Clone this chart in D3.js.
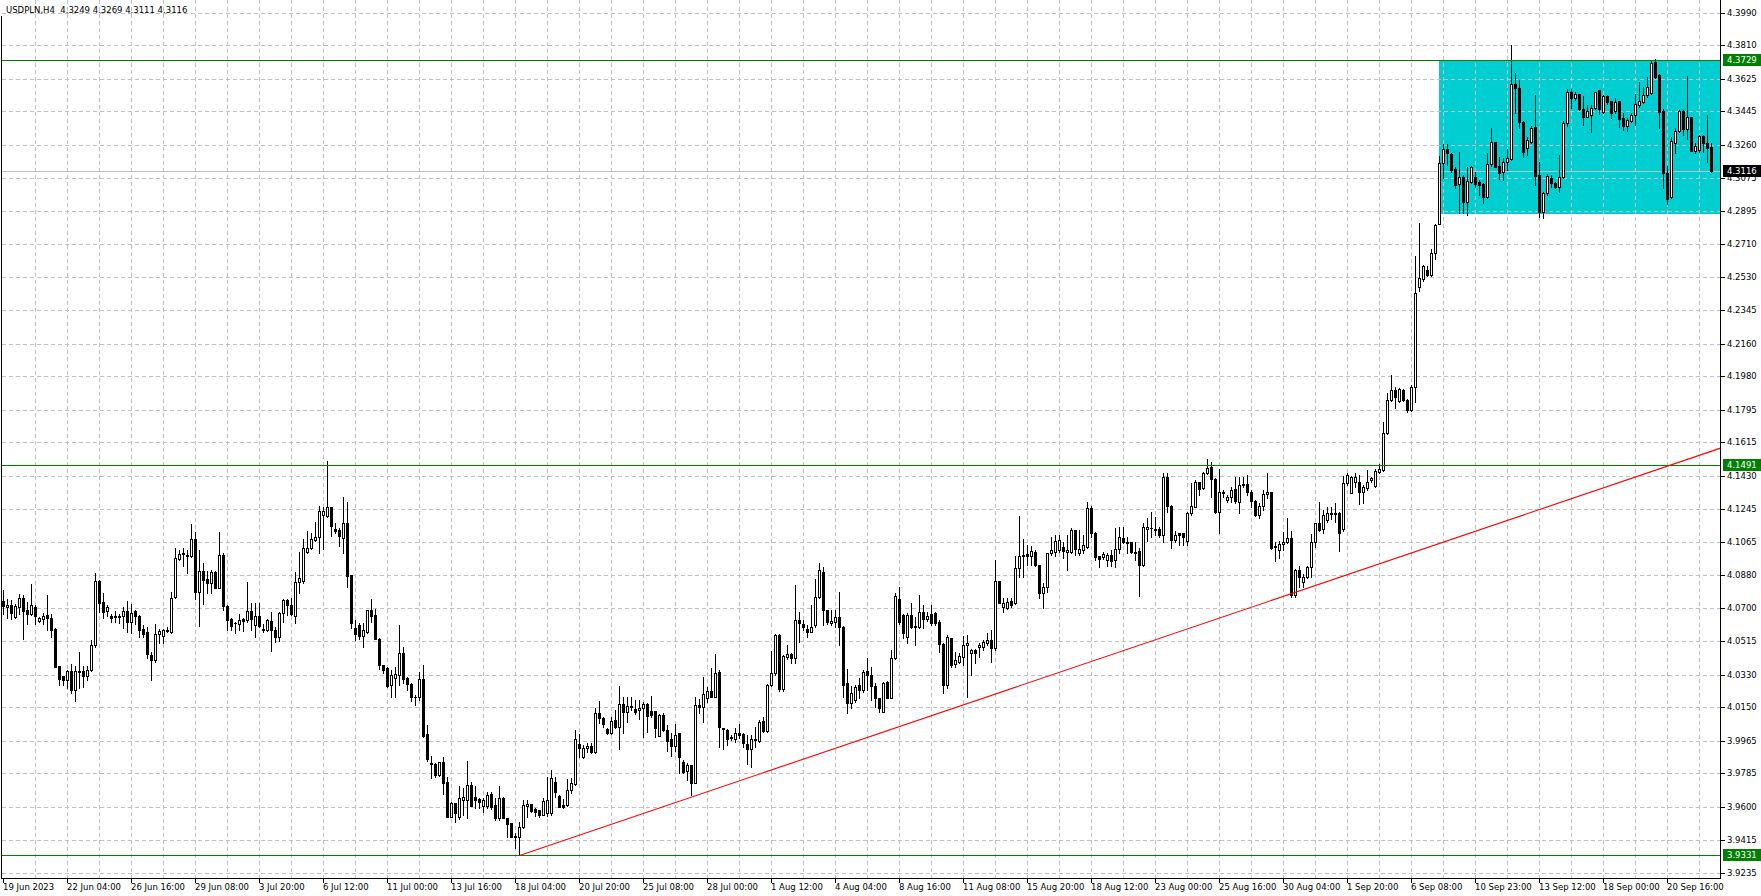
<!DOCTYPE html>
<html><head><meta charset="utf-8">
<script src="https://cdn.jsdelivr.net/npm/d3@7"></script>
<style>html,body{margin:0;padding:0;background:#fff;overflow:hidden}</style>
</head><body><svg id="c" width="1761" height="896"></svg>
<script>
const symbolTitle = "USDPLN,H4  4.3249 4.3269 4.3111 4.3116";
// H4 bars: [open, high, low, close]
const bars = [
[4.0737,4.0799,4.0668,4.0709],[4.0702,4.0746,4.0646,4.0713],[4.0713,4.0743,4.0640,4.0674],[4.0651,4.0720,4.0646,4.0709],
[4.0705,4.0774,4.0668,4.0752],[4.0752,4.0770,4.0526,4.0683],[4.0687,4.0733,4.0612,4.0668],[4.0664,4.0832,4.0659,4.0713],
[4.0707,4.0715,4.0608,4.0657],[4.0629,4.0649,4.0621,4.0642],[4.0638,4.0672,4.0608,4.0657],[4.0662,4.0770,4.0575,4.0644],
[4.0646,4.0668,4.0541,4.0580],[4.0584,4.0590,4.0370,4.0375],[4.0379,4.0379,4.0273,4.0305],[4.0321,4.0323,4.0273,4.0303],
[4.0303,4.0355,4.0258,4.0351],[4.0351,4.0392,4.0230,4.0247],[4.0247,4.0379,4.0187,4.0351],[4.0351,4.0457,4.0258,4.0353],
[4.0351,4.0379,4.0264,4.0323],[4.0323,4.0379,4.0299,4.0355],[4.0355,4.0524,4.0351,4.0495],[4.0495,4.0892,4.0485,4.0849],
[4.0849,4.0854,4.0677,4.0728],[4.0731,4.0784,4.0646,4.0677],[4.0683,4.0715,4.0653,4.0702],[4.0653,4.0668,4.0621,4.0646],
[4.0653,4.0681,4.0620,4.0651],[4.0655,4.0668,4.0618,4.0657],[4.0655,4.0702,4.0588,4.0681],[4.0681,4.0739,4.0565,4.0621],
[4.0621,4.0720,4.0560,4.0674],[4.0681,4.0690,4.0612,4.0655],[4.0653,4.0659,4.0537,4.0579],[4.0582,4.0607,4.0537,4.0556],
[4.0565,4.0593,4.0422,4.0444],[4.0440,4.0454,4.0303,4.0411],[4.0414,4.0612,4.0403,4.0556],[4.0556,4.0584,4.0504,4.0571],
[4.0545,4.0584,4.0504,4.0579],[4.0577,4.0593,4.0565,4.0579],[4.0564,4.0787,4.0560,4.0757],[4.0761,4.1032,4.0752,4.0976],
[4.0972,4.1022,4.0966,4.0998],[4.1004,4.1032,4.0929,4.0996],[4.0990,4.1022,4.0892,4.0992],[4.0985,4.1161,4.0983,4.1082],
[4.1078,4.1120,4.0748,4.0789],[4.0785,4.1017,4.0597,4.0901],[4.0901,4.0948,4.0720,4.0854],[4.0858,4.0901,4.0784,4.0836],
[4.0836,4.0910,4.0784,4.0897],[4.0897,4.0901,4.0808,4.0812],[4.0812,4.1119,4.0808,4.0994],[4.0994,4.1004,4.0687,4.0711],
[4.0711,4.0715,4.0575,4.0634],[4.0640,4.0646,4.0575,4.0599],[4.0618,4.0621,4.0560,4.0614],[4.0612,4.0664,4.0579,4.0631],
[4.0638,4.0646,4.0571,4.0627],[4.0631,4.0841,4.0621,4.0681],[4.0681,4.0724,4.0575,4.0636],[4.0603,4.0728,4.0537,4.0657],
[4.0657,4.0724,4.0593,4.0599],[4.0580,4.0612,4.0565,4.0582],[4.0579,4.0640,4.0571,4.0631],[4.0625,4.0677,4.0459,4.0579],
[4.0580,4.0593,4.0511,4.0537],[4.0537,4.0677,4.0515,4.0674],[4.0672,4.0746,4.0621,4.0743],[4.0743,4.0746,4.0659,4.0715],
[4.0715,4.0752,4.0659,4.0664],[4.0655,4.0900,4.0616,4.0841],[4.0842,4.1007,4.0784,4.0863],[4.0851,4.1079,4.0836,4.1029],
[4.1006,4.1127,4.1002,4.1029],[4.1029,4.1116,4.1024,4.1079],[4.1075,4.1177,4.1072,4.1090],[4.1090,4.1263,4.1005,4.1236],
[4.1214,4.1260,4.1024,4.1236],[4.1210,4.1512,4.1204,4.1256],[4.1256,4.1260,4.1099,4.1155],[4.1136,4.1167,4.1112,4.1127],
[4.1131,4.1140,4.1042,4.1099],[4.1088,4.1311,4.1005,4.1168],[4.1168,4.1287,4.0814,4.0876],[4.0882,4.0882,4.0587,4.0615],
[4.0587,4.0633,4.0523,4.0556],[4.0605,4.0615,4.0526,4.0546],[4.0546,4.0615,4.0486,4.0578],[4.0569,4.0688,4.0560,4.0688],
[4.0688,4.0747,4.0624,4.0657],[4.0661,4.0692,4.0528,4.0528],[4.0528,4.0532,4.0362,4.0384],[4.0384,4.0384,4.0338,4.0357],
[4.0366,4.0371,4.0261,4.0270],[4.0274,4.0357,4.0209,4.0329],[4.0314,4.0375,4.0209,4.0334],[4.0329,4.0605,4.0274,4.0452],
[4.0452,4.0486,4.0283,4.0309],[4.0314,4.0320,4.0246,4.0277],[4.0277,4.0283,4.0182,4.0206],[4.0209,4.0218,4.0163,4.0206],
[4.0206,4.0347,4.0191,4.0305],[4.0305,4.0384,3.9984,3.9992],[4.0001,4.0053,3.9855,3.9863],[3.9841,3.9881,3.9758,3.9837],
[3.9837,3.9841,3.9767,3.9776],[3.9776,3.9850,3.9771,3.9846],[3.9846,3.9877,3.9671,3.9734],[3.9736,3.9763,3.9546,3.9546],
[3.9546,3.9629,3.9542,3.9623],[3.9620,3.9623,3.9518,3.9568],[3.9546,3.9712,3.9535,3.9647],[3.9638,3.9702,3.9555,3.9656],
[3.9638,3.9854,3.9537,3.9721],[3.9721,3.9736,3.9605,3.9605],[3.9656,3.9712,3.9592,3.9638],[3.9642,3.9647,3.9592,3.9629],
[3.9605,3.9647,3.9573,3.9638],[3.9605,3.9679,3.9592,3.9666],[3.9669,3.9684,3.9586,3.9598],[3.9610,3.9647,3.9527,3.9537],
[3.9537,3.9715,3.9527,3.9647],[3.9647,3.9656,3.9537,3.9537],[3.9537,3.9537,3.9435,3.9505],[3.9509,3.9509,3.9431,3.9435],
[3.9441,3.9454,3.9371,3.9431],[3.9435,3.9518,3.9331,3.9487],[3.9487,3.9638,3.9481,3.9610],[3.9605,3.9638,3.9546,3.9616],
[3.9616,3.9616,3.9573,3.9579],[3.9586,3.9592,3.9549,3.9573],[3.9583,3.9583,3.9546,3.9555],[3.9555,3.9647,3.9555,3.9634],
[3.9564,3.9767,3.9549,3.9638],[3.9564,3.9804,3.9555,3.9758],[3.9739,3.9763,3.9656,3.9679],[3.9660,3.9666,3.9597,3.9601],
[3.9610,3.9641,3.9591,3.9597],[3.9610,3.9751,3.9604,3.9692],[3.9692,3.9757,3.9674,3.9730],[3.9726,4.0024,3.9720,3.9972],
[3.9947,4.0002,3.9877,3.9923],[3.9877,3.9941,3.9867,3.9923],[3.9923,3.9954,3.9904,3.9936],[3.9936,3.9954,3.9899,3.9904],
[3.9904,4.0144,3.9899,4.0116],[4.0116,4.0186,4.0061,4.0089],[4.0089,4.0098,4.0043,4.0055],[4.0028,4.0033,4.0002,4.0006],
[4.0006,4.0098,4.0002,4.0072],[4.0079,4.0135,4.0033,4.0043],[4.0043,4.0267,3.9919,4.0168],[4.0168,4.0205,4.0006,4.0126],
[4.0126,4.0208,4.0066,4.0157],[4.0157,4.0208,4.0135,4.0153],[4.0138,4.0190,4.0113,4.0126],[4.0135,4.0190,4.0083,4.0146],
[4.0144,4.0181,3.9983,4.0168],[4.0168,4.0175,4.0015,4.0103],[4.0131,4.0212,4.0098,4.0107],[4.0129,4.0129,3.9987,4.0033],
[3.9993,4.0113,3.9991,4.0107],[4.0107,4.0116,4.0020,4.0024],[4.0024,4.0052,3.9910,3.9965],[3.9972,4.0006,3.9882,3.9937],
[3.9937,4.0057,3.9910,3.9996],[4.0006,4.0009,3.9784,3.9873],[3.9849,3.9858,3.9784,3.9794],[3.9797,3.9843,3.9748,3.9831],
[3.9831,3.9831,3.9665,3.9729],[3.9729,4.0208,3.9729,4.0160],[4.0160,4.0194,4.0120,4.0149],[4.0149,4.0319,4.0070,4.0223],
[4.0199,4.0264,4.0181,4.0240],[4.0240,4.0369,4.0205,4.0205],[4.0205,4.0443,4.0205,4.0337],[4.0343,4.0356,3.9932,4.0039],
[4.0033,4.0033,3.9917,4.0028],[4.0024,4.0028,3.9941,3.9972],[3.9987,3.9996,3.9969,3.9978],[3.9972,4.0033,3.9960,4.0009],
[4.0006,4.0055,3.9978,3.9996],[4.0002,4.0006,3.9932,3.9950],[3.9947,3.9996,3.9836,3.9917],[3.9917,3.9996,3.9821,3.9972],
[3.9972,4.0043,3.9932,3.9969],[3.9965,4.0079,3.9960,4.0070],[4.0074,4.0094,4.0015,4.0020],[4.0020,4.0278,4.0015,4.0273],
[4.0273,4.0463,4.0267,4.0337],[4.0337,4.0555,4.0331,4.0549],[4.0549,4.0555,4.0242,4.0249],[4.0249,4.0440,4.0240,4.0433],
[4.0429,4.0494,4.0418,4.0442],[4.0442,4.0450,4.0393,4.0420],[4.0420,4.0826,4.0393,4.0632],[4.0632,4.0678,4.0512,4.0614],
[4.0610,4.0632,4.0577,4.0595],[4.0583,4.0605,4.0540,4.0568],[4.0568,4.0715,4.0568,4.0595],[4.0605,4.0859,4.0595,4.0758],
[4.0758,4.0949,4.0752,4.0909],[4.0900,4.0928,4.0605,4.0688],[4.0688,4.0688,4.0610,4.0623],[4.0618,4.0688,4.0605,4.0627],
[4.0623,4.0688,4.0595,4.0651],[4.0651,4.0789,4.0494,4.0596],[4.0596,4.0600,4.0209,4.0273],[4.0282,4.0360,4.0120,4.0172],
[4.0172,4.0268,4.0144,4.0227],[4.0190,4.0273,4.0181,4.0264],[4.0273,4.0310,4.0199,4.0245],[4.0245,4.0356,4.0236,4.0347],
[4.0351,4.0421,4.0245,4.0328],[4.0328,4.0375,4.0190,4.0268],[4.0268,4.0282,4.0150,4.0199],[4.0199,4.0199,4.0126,4.0144],
[4.0126,4.0292,4.0122,4.0282],[4.0290,4.0297,4.0199,4.0203],[4.0203,4.0467,4.0199,4.0420],[4.0420,4.0780,4.0415,4.0765],
[4.0747,4.0817,4.0610,4.0623],[4.0660,4.0665,4.0531,4.0559],[4.0537,4.0669,4.0507,4.0660],[4.0660,4.0725,4.0586,4.0592],
[4.0600,4.0651,4.0494,4.0596],[4.0596,4.0771,4.0586,4.0679],[4.0675,4.0716,4.0586,4.0638],[4.0638,4.0679,4.0629,4.0656],
[4.0666,4.0716,4.0605,4.0614],[4.0670,4.0675,4.0605,4.0614],[4.0623,4.0632,4.0457,4.0500],[4.0500,4.0503,4.0231,4.0273],
[4.0273,4.0549,4.0255,4.0540],[4.0531,4.0535,4.0374,4.0384],[4.0389,4.0457,4.0374,4.0411],[4.0402,4.0448,4.0393,4.0433],
[4.0430,4.0544,4.0384,4.0494],[4.0494,4.0549,4.0209,4.0503],[4.0448,4.0470,4.0328,4.0467],[4.0467,4.0470,4.0393,4.0448],
[4.0485,4.0503,4.0430,4.0494],[4.0485,4.0522,4.0467,4.0513],[4.0503,4.0559,4.0494,4.0522],[4.0522,4.0577,4.0402,4.0476],
[4.0476,4.0964,4.0467,4.0850],[4.0850,4.0850,4.0725,4.0729],[4.0703,4.0752,4.0679,4.0725],[4.0697,4.0752,4.0692,4.0734],
[4.0739,4.0752,4.0706,4.0716],[4.0725,4.0987,4.0721,4.0918],[4.0918,4.1208,4.0872,4.0987],[4.0992,4.1079,4.0872,4.0994],
[4.0997,4.1047,4.0937,4.0987],[4.0987,4.1042,4.0937,4.1016],[4.1011,4.1020,4.0931,4.0937],[4.0937,4.0937,4.0752,4.0784],
[4.0784,4.0839,4.0697,4.0817],[4.0817,4.1005,4.0789,4.1001],[4.1001,4.1093,4.0992,4.1020],[4.1010,4.1103,4.0987,4.1069],
[4.1020,4.1103,4.1011,4.1075],[4.1034,4.1066,4.0974,4.1016],[4.1010,4.1103,4.0909,4.1020],[4.1010,4.1139,4.1005,4.1130],
[4.1130,4.1130,4.0992,4.1025],[4.1001,4.1130,4.0992,4.1025],[4.1020,4.1103,4.1001,4.1047],[4.1034,4.1287,4.1029,4.1250],
[4.1250,4.1263,4.1093,4.1116],[4.1116,4.1121,4.0964,4.0983],[4.0987,4.0987,4.0928,4.0968],[4.0979,4.1010,4.0968,4.0998],
[4.0965,4.1005,4.0931,4.0992],[4.0992,4.1020,4.0931,4.0961],[4.0965,4.1140,4.0928,4.1025],[4.1023,4.1149,4.1001,4.1094],
[4.1084,4.1145,4.1057,4.1066],[4.1066,4.1094,4.1001,4.1060],[4.1066,4.1066,4.1001,4.1011],[4.1007,4.1066,4.0965,4.1011],
[4.1014,4.1029,4.0767,4.0937],[4.0937,4.1167,4.0931,4.1145],[4.1136,4.1195,4.1071,4.1145],[4.1143,4.1232,4.1094,4.1140],
[4.1138,4.1200,4.1103,4.1130],[4.1134,4.1145,4.1094,4.1103],[4.1103,4.1444,4.1066,4.1425],[4.1425,4.1444,4.1232,4.1265],
[4.1265,4.1269,4.1029,4.1075],[4.1075,4.1127,4.1066,4.1103],[4.1112,4.1112,4.1048,4.1103],[4.1112,4.1112,4.1048,4.1094],
[4.1071,4.1232,4.1048,4.1223],[4.1223,4.1388,4.1213,4.1263],[4.1260,4.1407,4.1260,4.1398],[4.1398,4.1398,4.1324,4.1355],
[4.1361,4.1453,4.1355,4.1444],[4.1444,4.1523,4.1440,4.1473],[4.1481,4.1505,4.1315,4.1411],[4.1411,4.1416,4.1226,4.1232],
[4.1232,4.1466,4.1116,4.1342],[4.1337,4.1352,4.1315,4.1342],[4.1296,4.1324,4.1287,4.1311],[4.1315,4.1370,4.1287,4.1352],
[4.1355,4.1425,4.1278,4.1293],[4.1287,4.1425,4.1223,4.1379],[4.1379,4.1422,4.1370,4.1385],[4.1385,4.1434,4.1324,4.1342],
[4.1342,4.1352,4.1259,4.1293],[4.1293,4.1296,4.1208,4.1213],[4.1213,4.1278,4.1195,4.1263],[4.1263,4.1352,4.1241,4.1329],
[4.1329,4.1444,4.1305,4.1342],[4.1342,4.1342,4.1024,4.1029],[4.1035,4.1066,4.0961,4.1042],[4.1020,4.1071,4.0974,4.1053],
[4.1053,4.1121,4.1020,4.1066],[4.1066,4.1195,4.1057,4.1084],[4.1084,4.1127,4.0762,4.0771],[4.0771,4.0913,4.0758,4.0909],
[4.0909,4.0931,4.0817,4.0869],[4.0845,4.0887,4.0817,4.0872],[4.0869,4.0931,4.0863,4.0928],[4.0928,4.1106,4.0869,4.1062],
[4.1062,4.1171,4.1035,4.1167],[4.1167,4.1287,4.1127,4.1130],[4.1134,4.1241,4.1116,4.1213],[4.1186,4.1260,4.1177,4.1226],
[4.1219,4.1260,4.1189,4.1226],[4.1223,4.1278,4.1177,4.1226],[4.1226,4.1232,4.1016,4.1116],[4.1134,4.1429,4.1127,4.1392],
[4.1388,4.1444,4.1379,4.1434],[4.1333,4.1431,4.1333,4.1426],[4.1398,4.1444,4.1370,4.1426],[4.1398,4.1435,4.1275,4.1343],
[4.1343,4.1379,4.1282,4.1370],[4.1361,4.1462,4.1352,4.1398],[4.1404,4.1425,4.1398,4.1416],[4.1374,4.1466,4.1370,4.1457],
[4.1452,4.1494,4.1444,4.1466],[4.1462,4.1729,4.1457,4.1669],[4.1665,4.1886,4.1660,4.1850],[4.1850,4.1988,4.1845,4.1905],
[4.1905,4.1923,4.1807,4.1868],[4.1846,4.1918,4.1840,4.1909],[4.1905,4.1909,4.1845,4.1850],[4.1850,4.1855,4.1782,4.1791],
[4.1791,4.1932,4.1786,4.1920],[4.1920,4.2645,4.1840,4.2439],[4.2472,4.2830,4.2449,4.2522],[4.2517,4.2594,4.2505,4.2590],
[4.2568,4.2590,4.2535,4.2541],[4.2541,4.2683,4.2532,4.2664],[4.2664,4.2821,4.2630,4.2817],[4.2823,4.3200,4.2820,4.3162],
[4.3162,4.3265,4.3077,4.3235],[4.3235,4.3264,4.3148,4.3217],[4.3208,4.3213,4.3108,4.3121],[4.3125,4.3140,4.3020,4.3038],
[4.3044,4.3219,4.2882,4.3081],[4.3081,4.3094,4.2882,4.2946],[4.2946,4.3140,4.2873,4.3062],[4.3057,4.3143,4.3051,4.3136],
[4.3081,4.3112,4.3029,4.3044],[4.3057,4.3066,4.2983,4.3038],[4.3044,4.3048,4.2937,4.2970],[4.2970,4.3213,4.2965,4.3153],
[4.3153,4.3352,4.3143,4.3274],[4.3274,4.3278,4.3136,4.3140],[4.3143,4.3195,4.3070,4.3106],[4.3108,4.3186,4.3066,4.3164],
[4.3164,4.3235,4.3121,4.3186],[4.3180,4.3812,4.3176,4.3595],[4.3595,4.3656,4.3435,4.3573],[4.3573,4.3619,4.3352,4.3388],
[4.3388,4.3394,4.3191,4.3223],[4.3241,4.3302,4.3204,4.3287],[4.3278,4.3365,4.3269,4.3352],[4.3357,4.3536,4.3038,4.3090],
[4.3094,4.3167,4.2863,4.2891],[4.2887,4.3001,4.2854,4.2992],[4.2996,4.3099,4.2983,4.3088],[4.3075,4.3094,4.3025,4.3051],
[4.3051,4.3057,4.3020,4.3025],[4.3025,4.3204,4.3001,4.3081],[4.3081,4.3392,4.3075,4.3379],[4.3379,4.3567,4.3365,4.3551],
[4.3551,4.3567,4.3462,4.3517],[4.3517,4.3554,4.3508,4.3541],[4.3541,4.3541,4.3453,4.3457],[4.3457,4.3530,4.3370,4.3416],
[4.3416,4.3481,4.3412,4.3449],[4.3425,4.3481,4.3333,4.3462],[4.3462,4.3551,4.3457,4.3551],[4.3564,4.3564,4.3431,4.3458],
[4.3444,4.3536,4.3435,4.3530],[4.3530,4.3536,4.3486,4.3499],[4.3503,4.3503,4.3407,4.3438],[4.3447,4.3517,4.3438,4.3499],
[4.3503,4.3503,4.3357,4.3403],[4.3407,4.3438,4.3342,4.3365],[4.3365,4.3407,4.3339,4.3398],[4.3394,4.3438,4.3388,4.3425],
[4.3425,4.3541,4.3370,4.3484],[4.3481,4.3610,4.3471,4.3503],[4.3499,4.3582,4.3494,4.3536],[4.3536,4.3634,4.3527,4.3578],
[4.3549,4.3726,4.3541,4.3711],[4.3717,4.3733,4.3628,4.3637],[4.3646,4.3652,4.3352,4.3444],[4.3447,4.3457,4.3020,4.3103],
[4.3103,4.3143,4.2933,4.2961],[4.2970,4.3306,4.2965,4.3282],[4.3269,4.3352,4.3213,4.3337],[4.3339,4.3453,4.3333,4.3447],
[4.3447,4.3453,4.3315,4.3346],[4.3346,4.3641,4.3291,4.3412],[4.3412,4.3416,4.3226,4.3228],[4.3228,4.3269,4.3213,4.3256],
[4.3232,4.3315,4.3223,4.3309],[4.3309,4.3315,4.3223,4.3269],[4.3269,4.3425,4.3167,4.3241],[4.3249,4.3269,4.3111,4.3116]
];
const dateLabels = ["19 Jun 2023","22 Jun 04:00","26 Jun 16:00","29 Jun 08:00","3 Jul 20:00","6 Jul 12:00","11 Jul 00:00",
"13 Jul 16:00","18 Jul 04:00","20 Jul 20:00","25 Jul 08:00","28 Jul 00:00","1 Aug 12:00","4 Aug 04:00","8 Aug 16:00",
"11 Aug 08:00","15 Aug 20:00","18 Aug 12:00","23 Aug 00:00","25 Aug 16:00","30 Aug 04:00","1 Sep 20:00","6 Sep 08:00",
"10 Sep 23:00","13 Sep 12:00","18 Sep 00:00","20 Sep 16:00"];
const priceTicks = [4.3990,4.3810,4.3625,4.3445,4.3260,4.3075,4.2895,4.2710,4.2530,4.2345,4.2160,4.1980,4.1795,4.1615,
4.1430,4.1245,4.1065,4.0880,4.0700,4.0515,4.0330,4.0150,3.9965,3.9785,3.9600,3.9415,3.9235];
const levelLines = [4.3729, 4.1491, 3.9331];
const bidPrice = 4.3116;
const trendAnchors = [[129, 3.9331], [417, 4.1491]];
const boxZone = [358.75, 4.3729, 4.2877];

const plotR = 1720.5, axisY = 878.5, FONT = "'DejaVu Sans', Tahoma, sans-serif", FS = "8.5px";
const svg = d3.select("#c");
const x = d3.scaleLinear().domain([0, 1]).range([3.5, 7.5]);
const y = d3.scaleLinear().domain([3.9331, 4.3729]).range([855.4, 60]);
const py = p => Math.round(y(p)) + 0.5;

svg.append("defs").append("clipPath").attr("id", "plot")
  .append("rect").attr("x", 2).attr("y", 0).attr("width", plotR - 2).attr("height", axisY);
const plot = svg.append("g").attr("clip-path", "url(#plot)");

// background zone rectangle
plot.append("rect")
  .attr("x", Math.round(x(boxZone[0]))).attr("y", Math.round(y(boxZone[1])))
  .attr("width", plotR - Math.round(x(boxZone[0])))
  .attr("height", Math.round(y(boxZone[2])) - Math.round(y(boxZone[1])))
  .attr("fill", "#00CED1");

// grid
const gridBars = d3.range(8, bars.length, 8);
plot.append("g").selectAll("line").data(gridBars).join("line")
  .attr("x1", d => x(d)).attr("x2", d => x(d)).attr("y1", 0).attr("y2", axisY)
  .attr("stroke", "#C0C0C0").attr("stroke-dasharray", "4,3").attr("shape-rendering", "crispEdges");
plot.append("g").selectAll("line").data(priceTicks).join("line")
  .attr("x1", 2).attr("x2", plotR).attr("y1", d => py(d)).attr("y2", d => py(d))
  .attr("stroke", "#C0C0C0").attr("stroke-dasharray", "4,3").attr("shape-rendering", "crispEdges");

// bid line
plot.append("line").attr("x1", 2).attr("x2", plotR).attr("y1", py(bidPrice)).attr("y2", py(bidPrice))
  .attr("stroke", "#C0C0C0").attr("shape-rendering", "crispEdges");

// candles
const cg = plot.append("g").selectAll("g").data(bars).join("g");
cg.append("line")
  .attr("x1", (d, i) => x(i)).attr("x2", (d, i) => x(i))
  .attr("y1", d => Math.round(y(d[1]))).attr("y2", d => Math.round(y(d[2])) + 1)
  .attr("stroke", "#000").attr("shape-rendering", "crispEdges");
cg.each(function (d, i) {
  const g = d3.select(this);
  const top = Math.round(y(Math.max(d[0], d[3])));
  const bot = Math.round(y(Math.min(d[0], d[3]))) + 1;
  const cx = x(i);
  if (d[3] >= d[0]) {
    const h = Math.max(bot - top, 2);
    g.append("rect").attr("x", cx - 1).attr("y", top + 0.5).attr("width", 2).attr("height", h - 1)
      .attr("fill", "#fff").attr("stroke", "#000").attr("shape-rendering", "crispEdges");
  } else {
    g.append("rect").attr("x", cx - 1.5).attr("y", top).attr("width", 3).attr("height", Math.max(bot - top, 1))
      .attr("fill", "#000").attr("shape-rendering", "crispEdges");
  }
});

// horizontal levels
plot.append("g").selectAll("line").data(levelLines).join("line")
  .attr("x1", 2).attr("x2", plotR).attr("y1", d => py(d)).attr("y2", d => py(d))
  .attr("stroke", "#008000").attr("shape-rendering", "crispEdges");

// trend line (ray)
const slope = (trendAnchors[1][1] - trendAnchors[0][1]) / (trendAnchors[1][0] - trendAnchors[0][0]);
const endBar = x.invert(plotR);
plot.append("line")
  .attr("x1", x(trendAnchors[0][0])).attr("y1", y(trendAnchors[0][1]))
  .attr("x2", plotR).attr("y2", y(trendAnchors[0][1] + slope * (endBar - trendAnchors[0][0])))
  .attr("stroke", "#FF0000").attr("stroke-width", 1.1);

// frame / axes
svg.append("line").attr("x1", 1.5).attr("x2", 1.5).attr("y1", 16).attr("y2", axisY).attr("stroke", "#000").attr("shape-rendering", "crispEdges");
svg.append("line").attr("x1", plotR).attr("x2", plotR).attr("y1", 0).attr("y2", axisY).attr("stroke", "#000").attr("shape-rendering", "crispEdges");
svg.append("line").attr("x1", 1).attr("x2", plotR).attr("y1", axisY).attr("y2", axisY).attr("stroke", "#000").attr("shape-rendering", "crispEdges");

// price axis
const pa = svg.append("g");
pa.selectAll("line").data(priceTicks).join("line")
  .attr("x1", plotR).attr("x2", plotR + 4).attr("y1", d => py(d)).attr("y2", d => py(d))
  .attr("stroke", "#000").attr("shape-rendering", "crispEdges");
pa.selectAll("text").data(priceTicks).join("text")
  .attr("x", 1727).attr("y", d => py(d)).attr("dy", "0.35em")
  .attr("font-family", FONT).attr("font-size", FS).attr("fill", "#000")
  .text(d => d.toFixed(4));

// level labels on axis
const tagData = levelLines.map(v => ({v, c: "#008000"})).concat([{v: bidPrice, c: "#000"}]);
const tags = svg.append("g").selectAll("g").data(tagData).join("g");
tags.append("rect").attr("x", 1723).attr("y", d => Math.round(y(d.v)) - 6).attr("width", 38).attr("height", 12).attr("fill", d => d.c);
tags.append("text").attr("x", 1727).attr("y", d => py(d.v)).attr("dy", "0.35em")
  .attr("font-family", FONT).attr("font-size", FS).attr("fill", "#fff").text(d => d.v.toFixed(4));

// time axis
const labelBar = (d, k) => k === 0 ? 0 : 16 * k;
const ta = svg.append("g");
ta.selectAll("line").data(dateLabels).join("line")
  .attr("x1", (d, k) => x(labelBar(d, k))).attr("x2", (d, k) => x(labelBar(d, k)))
  .attr("y1", axisY).attr("y2", axisY + 4).attr("stroke", "#000").attr("shape-rendering", "crispEdges");
ta.selectAll("text").data(dateLabels).join("text")
  .attr("x", (d, k) => x(labelBar(d, k)) - 0.5).attr("y", 890)
  .attr("font-family", FONT).attr("font-size", FS).attr("fill", "#000").text(d => d);

// header
svg.append("text").attr("x", 6).attr("y", 13).attr("font-family", FONT).attr("font-size", FS)
  .attr("fill", "#000").attr("xml:space", "preserve").style("white-space", "pre").text(symbolTitle);
</script></body></html>
